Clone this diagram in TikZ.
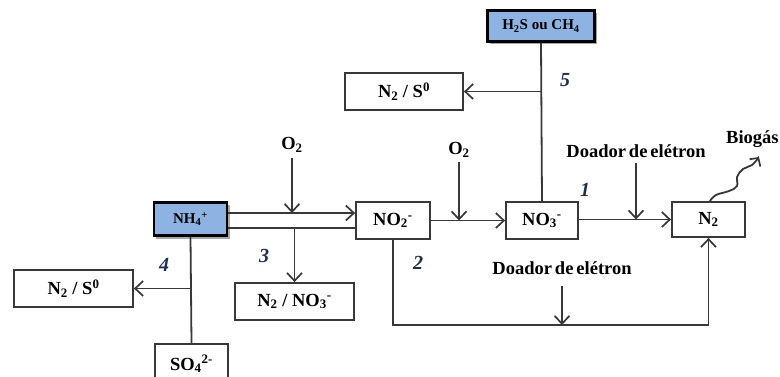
\documentclass[tikz,border=0pt]{standalone}
\usepackage{fontspec}
\setmainfont{Liberation Serif}
\usetikzlibrary{arrows.meta}
\definecolor{boxblue}{HTML}{8DB3E2}
\definecolor{linegray}{HTML}{383838}
\definecolor{numblue}{HTML}{1F2D4F}
\newcommand\tightsp{\hspace{0.16em}}
\begin{document}
\begin{tikzpicture}[x=1pt,y=-1pt,
  font=\bfseries\fontsize{18.5}{20}\selectfont,
  line/.style={draw=linegray,line width=1.8pt},
  arr/.style={line,-{Straight Barb[length=8pt,width=15pt,line width=1.7pt]}},
  box/.style={draw=linegray,line width=1.8pt,fill=white,inner sep=0pt,align=center},
  bluebox/.style={draw=black,line width=2.2pt,fill=boxblue,inner sep=0pt,
     font=\bfseries\fontsize{15}{17}\selectfont},
  num/.style={text=numblue,font=\bfseries\itshape\fontsize{20}{22}\selectfont},
  lbl/.style={inner sep=0pt}]
\useasboundingbox (0,0) rectangle (780,376);

% source boxes with a thin shadow below/right
\fill[gray!70] (489.5,12.5) rectangle (596.5,44);
\node[bluebox,minimum width=107pt,minimum height=31pt] (h2s) at (541,26) {H\textsubscript{2}S ou CH\textsubscript{4}};
\fill[gray!70] (155.5,204.5) rectangle (229.5,238.5);
\node[bluebox,minimum width=73pt,minimum height=33pt] (nh4) at (190.5,219) {NH\textsubscript{4}\textsuperscript{+}};

% product / intermediate boxes
\node[box,minimum width=118pt,minimum height=37pt] (ns5) at (404,91.5) {N\textsubscript{2} / S\textsuperscript{0}};
\node[box,minimum width=74pt,minimum height=37pt] (no2) at (393,220.5) {NO\textsubscript{2}\textsuperscript{-}};
\node[box,minimum width=72pt,minimum height=37pt] (no3) at (542,220.5) {NO\textsubscript{3}\textsuperscript{-}};
\node[box,minimum width=73pt,minimum height=35pt] (n2) at (708.5,219.5) {N\textsubscript{2}};
\node[box,minimum width=119pt,minimum height=37pt] (nno3) at (294.5,301.5) {N\textsubscript{2} / NO\textsubscript{3}\textsuperscript{-}};
\node[box,minimum width=119pt,minimum height=37pt] (ns4) at (73.5,288.5) {N\textsubscript{2} / S\textsuperscript{0}};
\node[box,minimum width=73pt,minimum height=40pt,anchor=north] (so4) at (191.5,343) {SO\textsubscript{4}\textsuperscript{2-}};

% free labels
\node[lbl] (o2a) at (292,145) {O\textsubscript{2}};
\node[lbl] (o2b) at (459,150) {O\textsubscript{2}};
\node[lbl] (don1) at (636,151) {Doador\tightsp de\tightsp elétron};
\node[lbl] (don2) at (562,268) {Doador\tightsp de\tightsp elétron};
\node[lbl,anchor=west] (bio) at (726,139) {Biogás};
\node[num] (n1) at (585,190) {1};
\node[num] (n2l) at (418,263) {2};
\node[num] (n3) at (264,256) {3};
\node[num] (n4) at (164,265) {4};
\node[num] (n5) at (565,80) {5};

% junction points
\coordinate (jup) at (nh4.east |- 0,213);
\coordinate (jlo) at (nh4.east |- 0,228);
\coordinate (j5) at (h2s.south |- ns5.east);
\coordinate (j4) at (nh4.south |- ns4.east);
\coordinate (bl) at (no2.south |- 0,325);
\coordinate (br) at (n2.south |- 0,325);

% nitritation: two parallel lines NH4+ -> NO2-
\draw[arr] (jup) -- (jup -| no2.west);
\draw[line] (jlo) -- (jlo -| no2.west);
\draw[arr] (o2a.south) ++(0,5) -- (o2a |- jup);
\draw[arr] (nno3.north |- jlo) -- (nno3.north);

% NO2- -> NO3- -> N2
\draw[arr] (no2.east) -- (no3.west);
\draw[arr] (o2b.south) ++(0,4) -- (o2b |- no2.east);
\draw[arr] (no3.east |- n2.west) -- (n2.west);
\draw[arr] (don1.south) ++(0,5) -- (don1.south |- n2.west);

% nitrite shunt to N2
\draw[arr] (no2.south) -- (bl) -- (br) -- (n2.south);
\draw[arr] (don2.south) ++(0,11) -- (don2 |- bl);

% sulfide / methane route
\draw[line] (h2s.south) -- (no3.north);
\draw[arr] (j5) -- (ns5.east);

% sulfate route
\draw[line] (nh4.south) -- (so4.north);
\draw[arr] (j4) -- (ns4.east);

% biogas release: wavy arrow leaving the N2 box
\coordinate (bstart) at ([xshift=1.5pt]n2.north);
\coordinate (bend) at (759,157);
\draw[line,line cap=round,-{Straight Barb[length=6pt,width=13pt,line width=1.7pt]}]
  plot[smooth,tension=0.7] coordinates {(bstart) (716,195) (729,191) (737,186) (737,177) (743,169) (752,165) (759,157)};
\end{tikzpicture}
\end{document}
